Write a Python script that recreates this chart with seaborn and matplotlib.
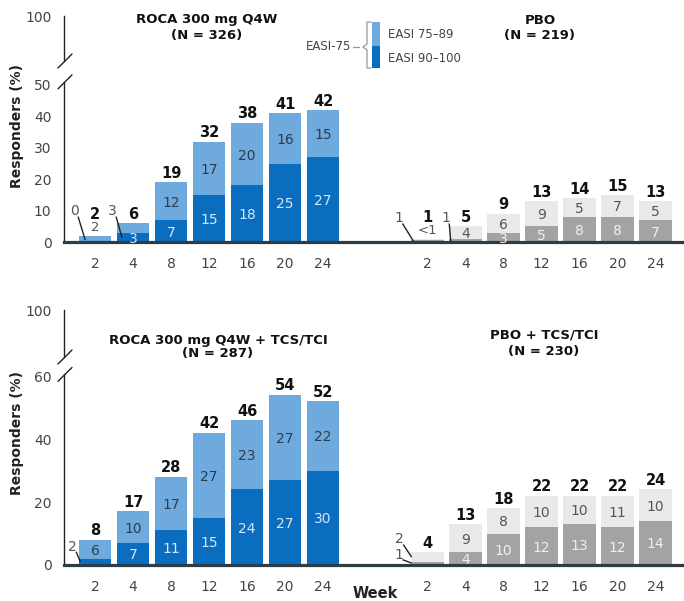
import matplotlib
matplotlib.use("Agg")
import matplotlib.pyplot as plt
import seaborn as sns
import pandas as pd
from matplotlib.lines import Line2D
from matplotlib.patches import Rectangle

# ---------------- data ----------------
weeks = [2, 4, 8, 12, 16, 20, 24]

roca_total = [2, 6, 19, 32, 38, 41, 42]
roca_easi90 = [0, 3, 7, 15, 18, 25, 27]
roca_easi75 = [2, 3, 12, 17, 20, 16, 15]

pbo_total = [1, 5, 9, 13, 14, 15, 13]
pbo_easi90 = [0.5, 1, 3, 5, 8, 8, 7]
pbo_easi75 = [1, 4, 6, 9, 5, 7, 5]

roca_tcs_total = [8, 17, 28, 42, 46, 54, 52]
roca_tcs_easi90 = [2, 7, 11, 15, 24, 27, 30]
roca_tcs_easi75 = [6, 10, 17, 27, 23, 27, 22]

pbo_tcs_total = [4, 13, 18, 22, 22, 22, 24]
pbo_tcs_easi90 = [1, 4, 10, 12, 13, 12, 14]
pbo_tcs_easi75 = [2, 9, 8, 10, 10, 11, 10]

titles = ["ROCA 300 mg Q4W", "PBO", "ROCA 300 mg Q4W + TCS/TCI", "PBO + TCS/TCI"]
ns = ["(N = 326)", "(N = 219)", "(N = 287)", "(N = 230)"]
legend_labels = ["EASI 75\u201389", "EASI 90\u2013100"]
legend_group = "EASI-75"
y_label = "Responders (%)"
x_label = "Week"

# ---------------- style ----------------
sns.set_style("white")
plt.rcParams['font.family'] = ['DejaVu Sans']

BLUE_D = "#0b6dc0"
BLUE_L = "#6eaadd"
GRAY_D = "#a3a3a3"
GRAY_L = "#e9e9e9"
BASE_C = "#2e3c45"

W, H = 684, 601
fig = plt.figure(figsize=(W / 100, H / 100), dpi=100)


def fx(x):
    return x / W


def fy(y):
    return 1 - y / H


def fmt(v):
    return "<1" if 0 < v < 1 else f"{v:g}"


def make_row(base_px, scale, lower_top, upper_top_px, upper_bot_px, yticks):
    top_px = base_px - lower_top * scale
    ax = fig.add_axes([fx(64), fy(base_px), fx(684) - fx(64), (base_px - top_px) / H])
    ax.set_ylim(0, lower_top)
    axu = fig.add_axes([fx(64), fy(upper_bot_px), fx(684) - fx(64), (upper_bot_px - upper_top_px) / H])
    axu.set_ylim(100 - (upper_bot_px - upper_top_px) / scale, 100)
    for a in (ax, axu):
        a.set_facecolor("none")
        a.spines["top"].set_visible(False)
        a.spines["right"].set_visible(False)
        a.spines["left"].set_color("#222222")
        a.spines["left"].set_linewidth(1.0)
        a.tick_params(axis="y", direction="out", length=6.5, width=1.0, color="#222222",
                      labelsize=10, labelcolor="#444444", pad=2.5)
    axu.spines["bottom"].set_visible(False)
    axu.set_xticks([])
    axu.set_yticks([100])
    ax.set_yticks(yticks)
    ax.spines["bottom"].set_color(BASE_C)
    ax.spines["bottom"].set_linewidth(2.3)
    # break marks
    for cy in (upper_bot_px, top_px):
        fig.add_artist(Line2D([fx(58), fx(72)], [fy(cy + 7), fy(cy - 7)],
                              color="#222222", lw=1.0, transform=fig.transFigure))
    return ax, axu


def draw_group(ax, offset, total, d90, d75, dark_c, light_c, dark_txt, light_txt, callouts):
    pos = [offset + i for i in range(len(weeks))]
    df = pd.DataFrame({"pos": pos, "total": total, "easi90": d90})
    sns.barplot(data=df, x="pos", y="total", native_scale=True, color=light_c,
                saturation=1, width=0.85, errorbar=None, ax=ax, zorder=1,
                linewidth=0, edgecolor="none")
    sns.barplot(data=df, x="pos", y="easi90", native_scale=True, color=dark_c,
                saturation=1, width=0.85, errorbar=None, ax=ax, zorder=1.1,
                linewidth=0, edgecolor="none")
    for i, x in enumerate(pos):
        co = {c[1]: c for c in callouts if c[0] == i}
        above = []
        # dark segment (EASI 90-100)
        if "dark" in co:
            pass
        elif d90[i] >= 3:
            ax.text(x, d90[i] / 2, fmt(d90[i]), ha="center", va="center_baseline",
                    fontsize=10, color=dark_txt, zorder=3)
        else:
            above.append(fmt(d90[i]))
        # light segment (EASI 75-89)
        if "light" in co:
            pass
        elif total[i] - d90[i] >= 3:
            ax.text(x, (d90[i] + total[i]) / 2, fmt(d75[i]), ha="center", va="center_baseline",
                    fontsize=10, color=light_txt, zorder=3)
        else:
            above.append(fmt(d75[i]))
        y = total[i] + 1.4
        for t in above:
            ax.text(x, y, t, ha="center", va="baseline", fontsize=9.5, color="#555555", zorder=3)
            y += 4.0
        ax.text(x, y, f"{total[i]:g}", ha="center", va="baseline", fontsize=10.5,
                fontweight="bold", color="#111111", zorder=3)
        for seg, c in co.items():
            _, _, lx, ly, ex, ey = c
            v = d90[i] if seg == "dark" else d75[i]
            ax.text(x + lx, ly, fmt(v), ha="center", va="center_baseline", fontsize=10,
                    color="#555555", zorder=3)
            ax.plot([x + lx + 0.1, x + ex], [ly - 2.1, ey], color="#222222", lw=1.0,
                    solid_capstyle="butt", zorder=3)
    return pos


PBO_OFF = 8.75

# ---------------- top row ----------------
ax1, ax1u = make_row(242, 3.14, 51, 16, 61, [0, 10, 20, 30, 40, 50])
p1 = draw_group(ax1, 0, roca_total, roca_easi90, roca_easi75, BLUE_D, BLUE_L, "#d3e7f7", "#2f3d4a",
                [(0, "dark", -0.55, 10.2, -0.26, 0.6), (1, "light", -0.55, 10.2, -0.29, 1.3)])
p2 = draw_group(ax1, PBO_OFF, pbo_total, pbo_easi90, pbo_easi75, GRAY_D, GRAY_L, "#efefef", "#555555",
                [(0, "light", -0.76, 8.0, -0.37, 0.2), (1, "dark", -0.53, 8.0, -0.39, 0.2)])

# ---------------- bottom row ----------------
ax2, ax2u = make_row(565, 3.15, 60.5, 310, 357, [0, 20, 40, 60])
q1 = draw_group(ax2, 0, roca_tcs_total, roca_tcs_easi90, roca_tcs_easi75, BLUE_D, BLUE_L, "#d3e7f7", "#2f3d4a",
                [(0, "dark", -0.6, 6.3, -0.39, 1.0)])
q2 = draw_group(ax2, PBO_OFF, pbo_tcs_total, pbo_tcs_easi90, pbo_tcs_easi75, GRAY_D, GRAY_L, "#efefef", "#555555",
                [(0, "light", -0.74, 8.6, -0.42, 2.5), (0, "dark", -0.76, 3.8, -0.42, 0.6)])

for ax, pa, pb, tl, pad in ((ax1, p1, p2, 0, 11), (ax2, q1, q2, 6, 5)):
    ax.set_xlim(-0.82, 15.5)
    ax.set_xticks(pa + pb)
    ax.set_xticklabels([str(w) for w in weeks] * 2)
    ax.tick_params(axis="x", direction="out", length=tl, width=1.2, color="#333333",
                   labelsize=10, labelcolor="#444444", pad=pad)
    ax.set_xlabel("")
    ax.set_ylabel("")

# titles
title_pos = [(207, 20, 36), (540, 20, 36), (218, 340, 354), (544, 335, 351)]
for (cx, y1, y2), t, n in zip(title_pos, titles, ns):
    fig.text(fx(cx), fy(y1), t, ha="center", va="center", fontsize=9.5, fontweight="bold", color="#111111")
    fig.text(fx(cx), fy(y2), n, ha="center", va="center", fontsize=9.5, fontweight="bold", color="#111111")

# y labels
fig.text(fx(17), fy(126), y_label, rotation=90, ha="center", va="center", fontsize=10,
         fontweight="bold", color="#222222")
fig.text(fx(17), fy(433), y_label, rotation=90, ha="center", va="center", fontsize=10,
         fontweight="bold", color="#222222")
fig.text(fx(375), fy(594), x_label, ha="center", va="center", fontsize=10.5, fontweight="bold",
         color="#222222")

# legend
fig.add_artist(Rectangle((fx(372), fy(46)), fx(380) - fx(372), fy(22) - fy(46),
                         facecolor=BLUE_L, edgecolor="none", transform=fig.transFigure))
fig.add_artist(Rectangle((fx(372), fy(68)), fx(380) - fx(372), fy(46) - fy(68),
                         facecolor=BLUE_D, edgecolor="none", transform=fig.transFigure))
bx = [371, 367, 367, 363, 367, 367, 371]
by = [22, 22, 44, 47, 50, 68, 68]
fig.add_artist(Line2D([fx(v) for v in bx], [fy(v) for v in by], color="#999999", lw=0.9,
                      transform=fig.transFigure))
fig.add_artist(Line2D([fx(353), fx(359)], [fy(47), fy(47)], color="#999999", lw=0.9,
                      transform=fig.transFigure))
fig.text(fx(351), fy(47), legend_group, ha="right", va="center", fontsize=8.5, color="#444444")
fig.text(fx(388), fy(35), legend_labels[0], ha="left", va="center", fontsize=8.5, color="#444444")
fig.text(fx(388), fy(59), legend_labels[1], ha="left", va="center", fontsize=8.5, color="#444444")

fig.savefig("out.png", dpi=100)
